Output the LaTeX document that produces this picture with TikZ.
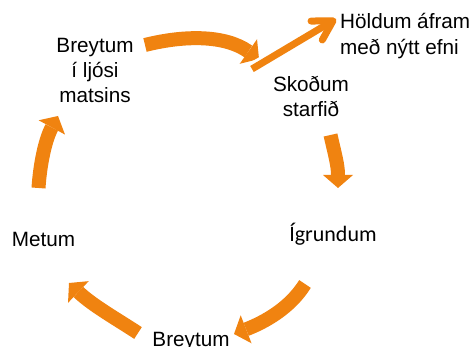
\documentclass[tikz,border=0pt]{standalone}
\usepackage{fontspec}
\setmainfont{Liberation Sans}
\newfontfamily\carlito{Carlito}
\usetikzlibrary{arrows.meta,calc}
\definecolor{cycorange}{RGB}{240,131,16}
\begin{document}
\begin{tikzpicture}[x=1pt,y=-1pt,
  lbl/.style={inner sep=0pt, align=center, font=\fontsize{20.7}{25}\selectfont},
  cyc/.style={draw=cycorange, line width=14pt, line cap=butt,
    -{Triangle[length=13pt,width=30pt,line width=0pt]}},
  onward/.style={draw=cycorange, line width=7pt, line cap=butt,
    -{Straight Barb[length=19pt,width=22pt,line cap=round,line join=round]}},
  halo/.style={draw=white, line width=13pt, line cap=butt}
]
\useasboundingbox (0,0) rectangle (474,347);

% stage labels (base anchor = baseline of the last line)
\node[lbl, anchor=base] (brt) at (95,103) {Breytum\\í ljósi\\matsins};
\node[lbl, anchor=base west, align=left, font=\fontsize{20.7}{26}\selectfont] (hold) at (340,54.5) {Höldum áfram\\með nýtt efni};
\node[lbl, anchor=base] (skod) at (311,117) {Skoðum\\starfið};
\node[inner sep=0pt, font=\carlito\fontsize{22}{26}\selectfont, anchor=base] (igr) at (333,242) {Ígrundum};
\node[lbl, anchor=base] (met) at (43.5,247) {Metum};
\node[lbl, anchor=base] (brb) at (191,346.5) {Breytum};

% ends of the cycle arrows
\coordinate (a1s) at (145,45);   \coordinate (a1e) at (259,59);
\coordinate (a2s) at (330.5,135); \coordinate (a2e) at (338,188);
\coordinate (a3s) at (305,284);  \coordinate (a3e) at (234,334);
\coordinate (a4s) at (138,333);  \coordinate (a4e) at (69,283);
\coordinate (a5s) at (38.5,188); \coordinate (a5e) at (58,116);
\coordinate (os) at (252,69);    \coordinate (oe) at (336,19);

% curved arrows of the cycle
\draw[cyc] (a1s) .. controls +(40,-10) and +(-34,-24) .. (a1e);
\draw[cyc] (a2s) .. controls +(4.5,20) and +(0,-23) .. (a2e);
\draw[cyc] (a3s) .. controls +(-15,24) and +(31,-12) .. (a3e);
\draw[cyc] (a4s) .. controls +(-23,-15) and +(23,22) .. (a4e);
\draw[cyc] (a5s) .. controls +(1.5,-23) and +(-13,24) .. (a5e);

% straight arrow leaving the cycle, with a white gap around its shaft
\draw[halo] (os) -- ($(os)!0.45!(oe)$);
\draw[onward] (os) -- (oe);
\end{tikzpicture}
\end{document}
